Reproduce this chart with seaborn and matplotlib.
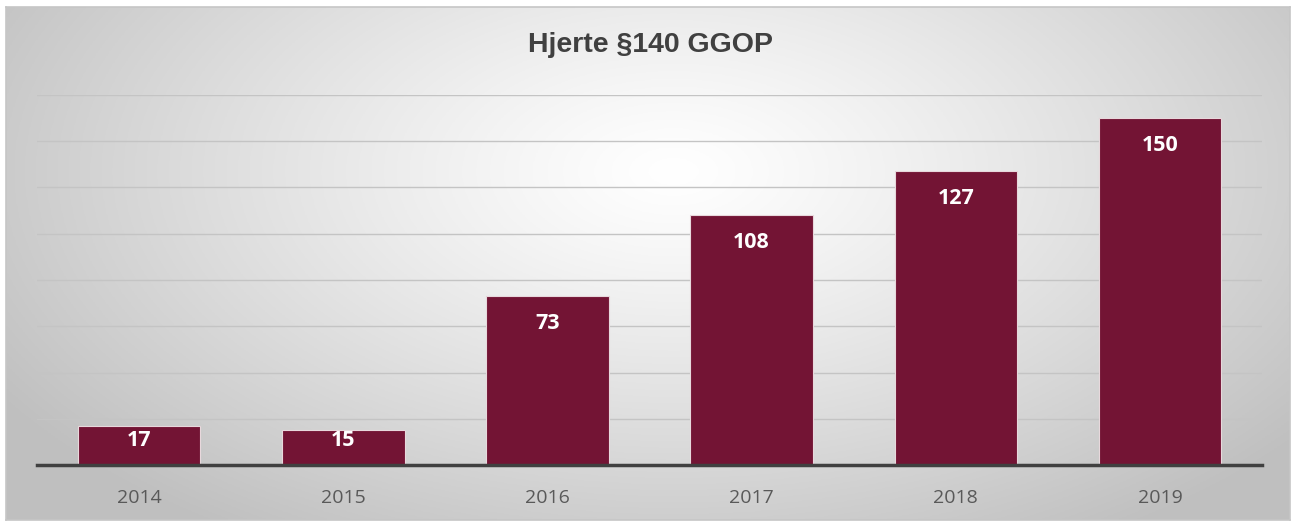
import numpy as np
import pandas as pd
import matplotlib
matplotlib.use("Agg")
import matplotlib.pyplot as plt
import seaborn as sns

years = ["2014", "2015", "2016", "2017", "2018", "2019"]
values = [17, 15, 73, 108, 127, 150]
title = "Hjerte §140 GGOP"

df = pd.DataFrame({"year": years, "value": values})

W, H = 1293, 525
fig = plt.figure(figsize=(W / 100, H / 100), dpi=100)
fig.patch.set_facecolor("white")

# background radial gradient panel
bg = fig.add_axes([6 / W, 1 - 520 / H, (1290 - 6) / W, (520 - 7) / H])
xx, yy = np.meshgrid(np.linspace(0, 1, 400), np.linspace(0, 1, 200))
cx, cy = 0.52, 0.68
r = np.sqrt(((xx - cx) / 0.62) ** 2 + ((yy - cy) / 0.85) ** 2)
r = np.clip(r, 0, 1)
g = 1.0 - 0.25 * r ** 1.2
bg.imshow(np.dstack([g, g, g]), aspect="auto", extent=[0, 1, 0, 1], origin="lower")
bg.set_xticks([]); bg.set_yticks([])
for s in bg.spines.values():
    s.set_color("#c6c6c6"); s.set_linewidth(1.2)

ax = fig.add_axes([37 / W, 1 - 465 / H, (1262 - 37) / W, (465 - 95) / H])
ax.patch.set_alpha(0)
sns.barplot(data=df, x="year", y="value", color="#731434", width=0.6, ax=ax,
            edgecolor="#e8d8dc", linewidth=0.8, saturation=1)
ax.set_ylim(0, 160)
ax.set_yticks(np.arange(0, 161, 20))
ax.yaxis.grid(True, color="#c4c4c4", linewidth=1.0)
ax.set_axisbelow(True)
ax.tick_params(axis="y", left=False, labelleft=False)
ax.tick_params(axis="x", bottom=False, labelsize=14, labelcolor="#595959", pad=14)
for lab in ax.get_xticklabels():
    lab.set_fontfamily("Open Sans")
ax.set_xlabel(""); ax.set_ylabel("")
for k in ["left", "right", "top"]:
    ax.spines[k].set_visible(False)
ax.spines["bottom"].set_color("#404040")
ax.spines["bottom"].set_linewidth(2.5)

# inside-end labels, kept inside the bar for short bars
for p, v in zip(ax.patches, values):
    top_pix = ax.transData.transform((0, p.get_height()))[1]
    base_pix = ax.transData.transform((0, 0))[1]
    y_pix = max(top_pix - 27, base_pix + 25)
    y_data = ax.transData.inverted().transform((0, y_pix))[1]
    ax.text(p.get_x() + p.get_width() / 2, y_data, str(v),
            ha="center", va="center", color="white", fontsize=15.5,
            fontweight="bold", fontfamily="Open Sans")

fig.text(650 / W, 1 - 45 / H, title, ha="center", va="center", fontsize=20.5,
         fontweight="bold", color="#404040", fontfamily="Liberation Sans")

fig.savefig("out.png", dpi=100)
